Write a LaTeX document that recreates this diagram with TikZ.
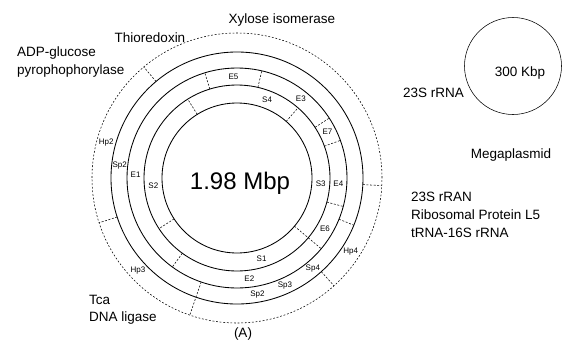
\documentclass[tikz,border=0pt]{standalone}
\usepackage{fontspec}
\setmainfont{Liberation Sans}
\begin{document}
\begin{tikzpicture}[x=1pt,y=1pt]
\tikzset{
  ring/.style={line width=0.85pt},
  outerring/.style={line width=0.55pt, dash pattern=on 1.8pt off 1.8pt},
  tickline/.style={line width=0.55pt, dash pattern=on 2pt off 1.6pt},
  small/.style={font=\fontsize{8}{9}\selectfont, inner sep=0pt},
  big/.style={font=\fontsize{13.5}{15}\selectfont, inner sep=0pt},
  huge/.style={font=\fontsize{24}{26}\selectfont, inner sep=0pt},
}
\useasboundingbox (0,-349) rectangle (574,0);
\def\ra{75}\def\rb{93}\def\rc{110}\def\rd{126}\def\re{145}
\begin{scope}[shift={(237,-178)}]
  \draw[ring] (0,0) circle (\ra);
  \draw[ring] (0,0) circle (\rb);
  \draw[ring] (0,0) circle (\rc);
  \draw[ring] (0,0) circle (\rd);
  \draw[outerring] (0,0) circle (\re);
  % S band ticks
  \foreach \a in {122,49,213} \draw[tickline] (\a:\ra) -- (\a:\rb);
  % S+E tick
  \draw[tickline] (-40:\ra) -- (-40:\rc);
  % E band ticks
  \foreach \a in {107,77,33,20,-15,234} \draw[tickline] (\a:\rb) -- (\a:\rc);
  % Sp band tick
  \draw[tickline] (-22:\rc) -- (-22:\rd);
  % Sp+Hp tick
  \draw[tickline] (251:\rc) -- (251:\re);
  % Hp band ticks
  \foreach \a in {130,-3,-48,198} \draw[tickline] (\a:\rd) -- (\a:\re);
  % labels S band
  \node[small] (s4) at (69:84) {S4};
  \node[small] (s3) at (-4:84) {S3};
  \node[small] (s2) at (185:84) {S2};
  \node[small] (s1) at (-73:84) {S1};
  % E band
  \node[small] (e5) at (92:101.5) {E5};
  \node[small] (e3) at (51:101.5) {E3};
  \node[small] (e7) at (27:101.5) {E7};
  \node[small] (e4) at (-3:101.5) {E4};
  \node[small] (e6) at (-30:101.5) {E6};
  \node[small] (e2) at (-83:101.5) {E2};
  \node[small] (e1) at (178:101.5) {E1};
  % Sp band
  \node[small] (sp2a) at (174:118) {Sp2};
  \node[small] (sp2b) at (-80:118) {Sp2};
  \node[small] (sp3) at (-66:118) {Sp3};
  \node[small] (sp4) at (-50:118) {Sp4};
  % Hp band
  \node[small] (hp2) at (165:135.5) {Hp2};
  \node[small] (hp3) at (223:135.5) {Hp3};
  \node[small] (hp4) at (-33:135.5) {Hp4};
\end{scope}
\node[huge] (mbp) at (240,-183) {1.98 Mbp};
% megaplasmid
\draw[line width=0.55pt] (513,-66) circle (48.5);
\node[big] (kbp) at (520,-73) {300 Kbp};
\node[big] (mega) at (511,-155) {Megaplasmid};
% outer labels
\node[big] (xyl) at (282,-20) {Xylose isomerase};
\node[big] (thio) at (150,-38) {Thioredoxin};
\node[big, anchor=west] (adp) at (17,-53) {ADP-glucose};
\node[big, anchor=west] (pyro) at (17,-71) {pyrophophorylase};
\node[big, anchor=west] (rrna) at (403,-93) {23S rRNA};
\node[big, anchor=west] (rran) at (411,-197) {23S rRAN};
\node[big, anchor=west] (ribo) at (411,-215) {Ribosomal Protein L5};
\node[big, anchor=west] (trna) at (411,-233) {tRNA-16S rRNA};
\node[big, anchor=west] (tca) at (89,-300) {Tca};
\node[big, anchor=west] (lig) at (89,-318) {DNA ligase};
\node[big] (lblA) at (243,-334) {(A)};
\end{tikzpicture}
\end{document}
